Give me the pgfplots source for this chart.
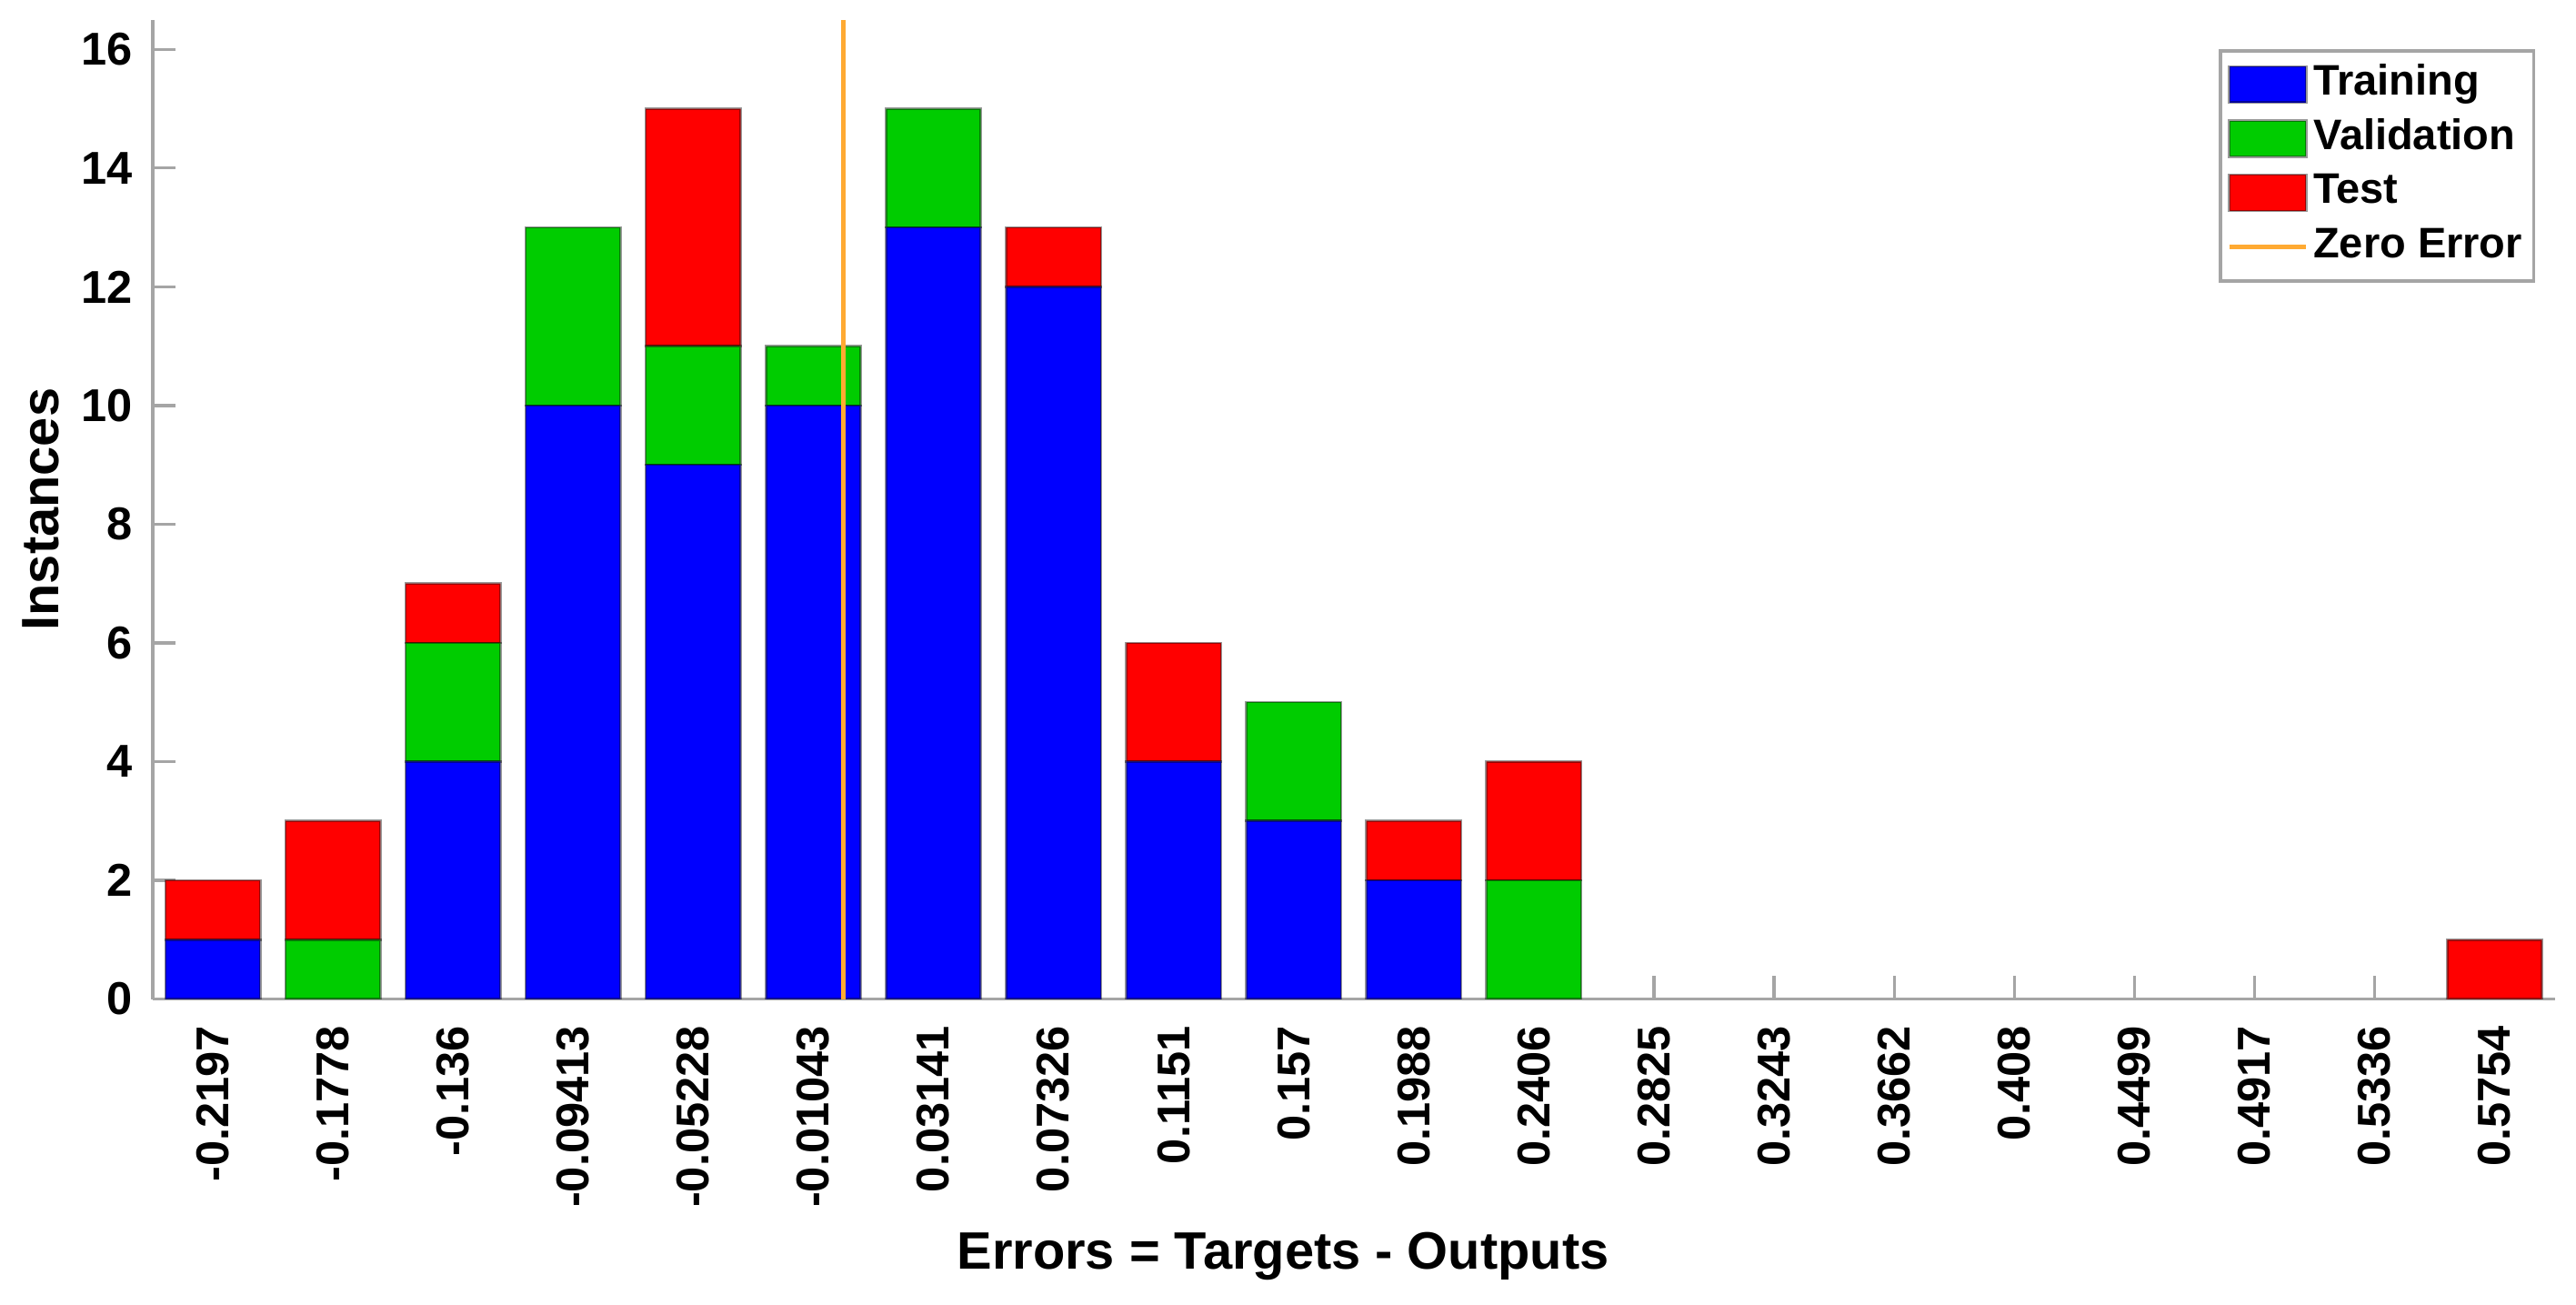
\documentclass[border=0pt]{standalone}
\usepackage{fontspec}
\setmainfont{Liberation Sans}
\usepackage{pgfplots}
\pgfplotsset{compat=1.18}
\definecolor{trainblue}{RGB}{0,0,255}
\definecolor{valgreen}{RGB}{0,204,0}
\definecolor{testred}{RGB}{255,0,0}
\definecolor{zeroorange}{RGB}{255,170,50}
\definecolor{axgray}{RGB}{165,165,165}
\pgfplotsset{
  barleg/.style={legend image code/.code={\draw[##1] (0pt,-5.5pt) rectangle (23.5pt,5.5pt);}},
  lineleg/.style={legend image code/.code={\draw[##1] (0pt,0pt) -- (23.5pt,0pt);}},
  common/.style={width=731pt, height=298pt, scale only axis,
    xmin=0.5, xmax=20.5, ymin=0, ymax=16.5},
  binbar/.style={draw=black, draw opacity=0.4, line width=0.7pt},
}
\begin{document}
\begin{tikzpicture}
\begin{axis}[common,
  ybar stacked, bar width=0.79,
  xtick={1,...,20},
  xticklabels={-0.2197,-0.1778,-0.136,-0.09413,-0.05228,-0.01043,0.03141,0.07326,0.1151,0.157,0.1988,0.2406,0.2825,0.3243,0.3662,0.408,0.4499,0.4917,0.5336,0.5754},
  ytick={0,2,...,16},
  axis lines=left, axis line style={-, draw=axgray, line width=1pt},
  tick align=inside, major tick length=7pt, tick style={draw=axgray, line width=0.9pt},
  xtick pos=left, ytick pos=left,
  /pgf/number format/assume math mode=true,
  tick label style={font=\fontsize{14}{16}\selectfont\bfseries},
  xticklabel style={rotate=90, anchor=east, inner xsep=8pt},
  yticklabel style={inner xsep=6pt},
  label style={font=\fontsize{16}{18}\selectfont\bfseries},
  xlabel={Errors = Targets - Outputs},
  ylabel={Instances},
  xlabel style={at={(axis description cs:0.4706,-0.263)}, anchor=center},
  ylabel style={at={(axis description cs:-0.0465,0.5)}, anchor=center, rotate=0},
]
\addplot[binbar, fill=trainblue] coordinates {
(1,1) (2,0) (3,4) (4,10) (5,9) (6,10) (7,13) (8,12) (9,4) (10,3)
(11,2) (12,0) (13,0) (14,0) (15,0) (16,0) (17,0) (18,0) (19,0) (20,0)};
\addplot[binbar, fill=valgreen] coordinates {
(1,0) (2,1) (3,2) (4,3) (5,2) (6,1) (7,2) (8,0) (9,0) (10,2)
(11,0) (12,2) (13,0) (14,0) (15,0) (16,0) (17,0) (18,0) (19,0) (20,0)};
\addplot[binbar, fill=testred] coordinates {
(1,1) (2,2) (3,1) (4,0) (5,4) (6,0) (7,0) (8,1) (9,2) (10,0)
(11,1) (12,2) (13,0) (14,0) (15,0) (16,0) (17,0) (18,0) (19,0) (20,1)};
\end{axis}
\begin{axis}[common, hide axis,
  legend style={at={(0.992,0.97)}, anchor=north east, draw=axgray, line width=1pt,
    font=\fontsize{13}{15}\selectfont\bfseries, inner sep=2pt,
    nodes={inner sep=1.5pt, text height=10pt, text depth=3.5pt}, cells={anchor=west}},
]
\addlegendimage{barleg, binbar, fill=trainblue}
\addlegendentry{Training}
\addlegendimage{barleg, binbar, fill=valgreen}
\addlegendentry{Validation}
\addlegendimage{barleg, binbar, fill=testred}
\addlegendentry{Test}
\addplot[lineleg, draw=zeroorange, line width=1.3pt] coordinates {(6.25,0) (6.25,16.5)};
\addlegendentry{Zero Error}
\end{axis}
\path (current axis.south west) ++(-46.5pt,-93pt) rectangle ([shift={(6.5pt,6pt)}]current axis.north east);
\end{tikzpicture}
\end{document}
